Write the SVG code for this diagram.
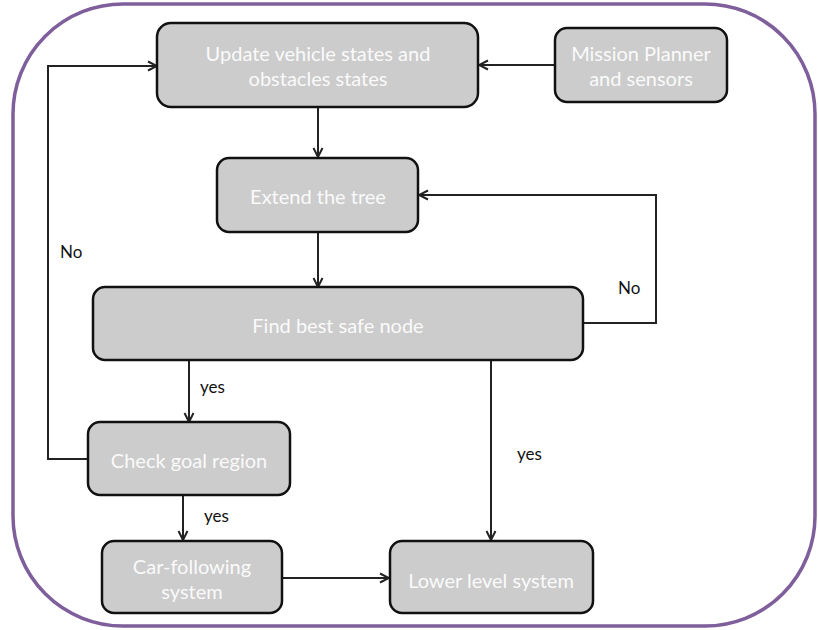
<svg xmlns="http://www.w3.org/2000/svg" width="818" height="630" viewBox="0 0 818 630">
  <style>
    .box { fill: #cccccc; stroke: #111111; stroke-width: 2.5; }
    .lbl { font-family: Lato, "Open Sans", sans-serif; font-size: 20px; fill: #fafafa; text-anchor: middle; }
    .note { font-family: Lato, "Open Sans", sans-serif; font-size: 17px; fill: #111111; }
    .wire { fill: none; stroke: #222222; stroke-width: 2; }
  </style>
  <defs>
    <marker id="arrow" viewBox="0 0 12 12" refX="11" refY="6" markerWidth="12" markerHeight="12" markerUnits="userSpaceOnUse" orient="auto">
      <path d="M2,1.5 L11,6 L2,10.5" fill="none" stroke="#222222" stroke-width="2"/>
    </marker>
  </defs>

  <rect width="818" height="630" fill="#ffffff"/>
  <!-- outer frame -->
  <rect x="13" y="4" width="802" height="622" rx="110" ry="110" fill="none" stroke="#7f5f9b" stroke-width="3.5"/>

  <g id="connectors">
    <path class="wire" d="M555,65 H479" marker-end="url(#arrow)"/>
    <path class="wire" d="M318,108 V157" marker-end="url(#arrow)"/>
    <path class="wire" d="M318,232 V287" marker-end="url(#arrow)"/>
    <path class="wire" d="M583,323 H656 V195 H419" marker-end="url(#arrow)"/>
    <path class="wire" d="M88,459 H48 V66 H157" marker-end="url(#arrow)"/>
    <path class="wire" d="M189,360 V422" marker-end="url(#arrow)"/>
    <path class="wire" d="M183,495 V540" marker-end="url(#arrow)"/>
    <path class="wire" d="M491,360 V540" marker-end="url(#arrow)"/>
    <path class="wire" d="M282,578 H389" marker-end="url(#arrow)"/>
    <text class="note" x="60" y="258">No</text>
    <text class="note" x="618" y="294">No</text>
    <text class="note" x="200" y="393">yes</text>
    <text class="note" x="204" y="522">yes</text>
    <text class="note" x="517" y="460">yes</text>
  </g>

  <g id="update">
    <rect class="box" x="157" y="23" width="321" height="84" rx="14"/>
    <text class="lbl" x="318" y="61">Update vehicle states and</text>
    <text class="lbl" x="318" y="86">obstacles states</text>
  </g>
  <g id="mission">
    <rect class="box" x="555" y="28" width="172" height="74" rx="12"/>
    <text class="lbl" x="641" y="61">Mission Planner</text>
    <text class="lbl" x="641" y="86">and sensors</text>
  </g>
  <g id="extend">
    <rect class="box" x="217" y="158" width="201" height="74" rx="12"/>
    <text class="lbl" x="318" y="204">Extend the tree</text>
  </g>
  <g id="find">
    <rect class="box" x="93" y="287" width="490" height="73" rx="12"/>
    <text class="lbl" x="338" y="333">Find best safe node</text>
  </g>
  <g id="check">
    <rect class="box" x="88" y="422" width="202" height="73" rx="12"/>
    <text class="lbl" x="189" y="468">Check goal region</text>
  </g>
  <g id="carfollow">
    <rect class="box" x="102" y="541" width="180" height="72" rx="12"/>
    <text class="lbl" x="192" y="574">Car-following</text>
    <text class="lbl" x="192" y="599">system</text>
  </g>
  <g id="lower">
    <rect class="box" x="390" y="541" width="203" height="72" rx="12"/>
    <text class="lbl" x="491" y="588">Lower level system</text>
  </g>
</svg>
